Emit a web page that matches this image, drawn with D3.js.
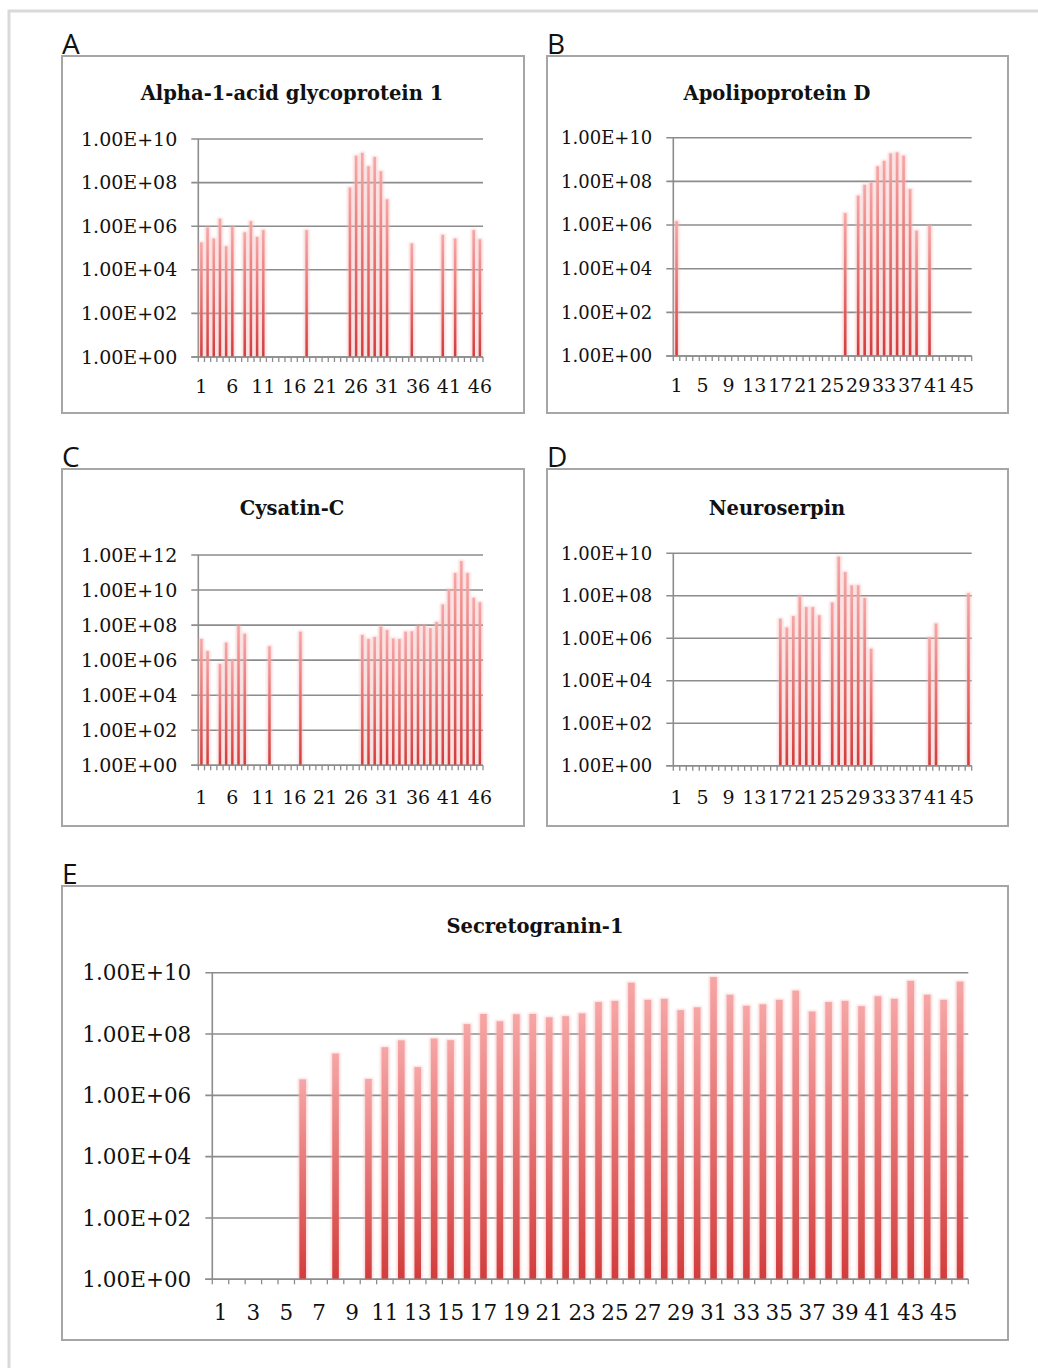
<!DOCTYPE html>
<html>
<head>
<meta charset="utf-8">
<script src="https://cdn.jsdelivr.net/npm/d3@7"></script>
<style>
  body { margin: 0; background: #fff; }
  text { fill: #111; }
</style>
</head>
<body>
<svg id="fig" width="1038" height="1368"></svg>
<script>
// sample index shared by every panel
var categories = [1,2,3,4,5,6,7,8,9,10,11,12,13,14,15,16,17,18,19,20,21,22,23,
  24,25,26,27,28,29,30,31,32,33,34,35,36,37,38,39,40,41,42,43,44,45,46];

// intensities, null = not detected
var alphaAGP = [1.8e5,8.7e5,2.7e5,2.2e6,1.2e5,9.5e5,null,5.2e5,1.7e6,3.2e5,6.6e5,
  null,null,null,null,null,null,6.6e5,null,null,null,null,null,null,
  5.9e7,1.7e9,2.3e9,5.6e8,1.5e9,3.3e8,1.7e7,null,null,null,1.6e5,
  null,null,null,null,4.0e5,null,2.7e5,null,null,6.6e5,2.5e5];

var apoD = [1.5e6,null,null,null,null,null,null,null,null,null,null,null,null,
  null,null,null,null,null,null,null,null,null,null,null,null,null,
  3.5e6,null,2.2e7,6.9e7,8.9e7,4.9e8,8.7e8,1.9e9,2.1e9,1.5e9,4.4e7,5.5e5,
  null,9.1e5,null,null,null,null,null,null];

var cystatinC = [1.6e7,3.3e6,null,6.0e5,1.0e7,1.0e6,8.9e7,3.2e7,null,null,null,
  6.2e6,null,null,null,null,4.2e7,null,null,null,null,null,null,null,null,null,
  2.7e7,1.6e7,2.1e7,8.1e7,5.2e7,1.7e7,1.6e7,4.2e7,4.4e7,8.9e7,9.3e7,6.8e7,
  1.5e8,1.5e9,1.1e10,9.3e10,4.5e11,9.3e10,3.6e9,2.0e9];

var neuroserpin = [null,null,null,null,null,null,null,null,null,null,null,null,
  null,null,null,null,8.3e6,3.2e6,1.1e7,1.0e8,2.9e7,2.9e7,1.2e7,null,
  4.8e7,6.9e9,1.3e9,3.1e8,3.1e8,7.9e7,3.2e5,null,null,null,null,null,null,
  null,null,1.1e6,4.9e6,null,null,null,null,1.3e8];

var secretogranin = [null,null,null,null,null,3.3e6,null,2.3e7,null,3.4e6,3.7e7,
  6.2e7,8.3e6,7.1e7,6.3e7,2.1e8,4.5e8,2.6e8,4.4e8,4.5e8,3.5e8,3.8e8,4.7e8,
  1.1e9,1.2e9,4.7e9,1.3e9,1.4e9,6.0e8,7.4e8,7.2e9,1.9e9,8.3e8,9.3e8,1.3e9,
  2.6e9,5.4e8,1.1e9,1.2e9,8.1e8,1.7e9,1.4e9,5.4e9,1.9e9,1.3e9,5.1e9];

var panelLetters = ["A","B","C","D","E"];
var panelTitles = ["Alpha-1-acid glycoprotein 1","Apolipoprotein D","Cysatin-C",
  "Neuroserpin","Secretogranin-1"];
var yTopExponent = [10,10,12,10,10];
var xLabelStep = [5,4,5,4,2];

var svg = d3.select("#fig");

// page frame
svg.append("path").attr("d","M9,1368V11H1038")
  .attr("fill","none").attr("stroke","#d9d9d9").attr("stroke-width",3);

var defs = svg.append("defs");
var grad = defs.append("linearGradient").attr("id","barFill")
  .attr("x1",0).attr("y1",0).attr("x2",0).attr("y2",1);
grad.append("stop").attr("offset","0%").attr("stop-color","#f6a6a6");
grad.append("stop").attr("offset","100%").attr("stop-color","#d23c3c");
defs.append("filter").attr("id","soft").attr("x","-50%").attr("width","200%")
  .append("feGaussianBlur").attr("stdDeviation",1.2);

// layout per panel: frame box, plot box, title centre, font sizes
var layout = [
  {frame:[62,56,524,413], plot:[198.3,139,483,357], titleX:292, titleY:100, yfs:19, fs:19, xlab:36},
  {frame:[547,56,1008,413], plot:[673.3,137.7,971.7,356], titleX:777, titleY:100, yfs:18, fs:19, xlab:36},
  {frame:[62,469,524,826], plot:[198.3,555,483,765.3], titleX:292, titleY:515, yfs:19, fs:19, xlab:39},
  {frame:[547,469,1008,826], plot:[673.3,553.3,971.7,765.7], titleX:777, titleY:515, yfs:18, fs:19, xlab:38},
  {frame:[62,886,1008,1340], plot:[212.3,972.7,968.3,1279.3], titleX:535, titleY:933, yfs:21.5, fs:21.5, xlab:41}
];
var seriesList = [alphaAGP, apoD, cystatinC, neuroserpin, secretogranin];

var fmt = function(d) {
  var e = Math.round(Math.log10(d));
  return "1.00E+" + (e < 10 ? "0" + e : e);
};

layout.forEach(function(L, p) {
  var g = svg.append("g");
  var values = seriesList[p];
  var x0 = L.plot[0], y0 = L.plot[1], x1 = L.plot[2], y1 = L.plot[3];

  g.append("rect")
    .attr("x", L.frame[0]).attr("y", L.frame[1])
    .attr("width", L.frame[2]-L.frame[0]).attr("height", L.frame[3]-L.frame[1])
    .attr("fill","#fff").attr("stroke","#a6a6a6").attr("stroke-width",2);

  g.append("text").attr("x", L.frame[0]).attr("y", L.frame[1]-2)
    .attr("font-family","'Open Sans', sans-serif").attr("font-size",28)
    .text(panelLetters[p]);

  g.append("text").attr("x", L.titleX).attr("y", L.titleY)
    .attr("text-anchor","middle")
    .attr("font-family","'DejaVu Serif', serif").attr("font-weight","bold")
    .attr("font-size", 19.5)
    .text(panelTitles[p]);

  var x = d3.scaleBand().domain(categories).range([x0, x1]).paddingInner(0);
  var y = d3.scaleLog().domain([1, Math.pow(10, yTopExponent[p])]).range([y1, y0]);
  var yTicks = d3.range(0, yTopExponent[p]+1, 2).map(function(e){ return Math.pow(10, e); });

  // gridlines + y labels
  g.selectAll(".grid").data(yTicks).enter().append("line")
    .attr("x1", x0-7).attr("x2", x1)
    .attr("y1", function(d){ return y(d); }).attr("y2", function(d){ return y(d); })
    .attr("stroke","#8c8c8c").attr("stroke-width",1.6);
  g.selectAll(".ylab").data(yTicks).enter().append("text")
    .attr("x", x0-21).attr("y", function(d){ return y(d); })
    .attr("dy","0.35em").attr("text-anchor","end")
    .attr("font-family","'DejaVu Serif', serif").attr("font-size", L.yfs)
    .text(fmt);

  // y axis line
  g.append("line").attr("x1",x0).attr("x2",x0).attr("y1",y0).attr("y2",y1)
    .attr("stroke","#8c8c8c").attr("stroke-width",1.6);

  // x axis ticks at category edges
  var edges = categories.map(function(c){ return x(c); }).concat([x1]);
  g.selectAll(".xt").data(edges).enter().append("line")
    .attr("x1", function(d){ return d; }).attr("x2", function(d){ return d; })
    .attr("y1", y1).attr("y2", y1+5)
    .attr("stroke","#8c8c8c").attr("stroke-width",1.3);

  var xLabels = categories.filter(function(c){ return (c-1) % xLabelStep[p] === 0; });
  g.selectAll(".xlab").data(xLabels).enter().append("text")
    .attr("x", function(d){ return x(d) + x.bandwidth()/2; })
    .attr("y", y1 + L.xlab)
    .attr("text-anchor","middle")
    .attr("font-family","'DejaVu Serif', serif").attr("font-size", L.fs)
    .text(function(d){ return d; });

  // bars
  var pts = categories.map(function(c, i){ return {c:c, v:values[i]}; })
    .filter(function(d){ return d.v != null; });
  var bw = x.bandwidth()*0.4;
  g.selectAll(".glow").data(pts).enter().append("rect")
    .attr("x", function(d){ return x(d.c) + (x.bandwidth()-bw)/2 - 1.5; })
    .attr("y", function(d){ return y(d.v) - 1; })
    .attr("width", bw+3)
    .attr("height", function(d){ return y1 - y(d.v) + 1; })
    .attr("fill","#f4b4b4").attr("opacity",0.55).attr("filter","url(#soft)");
  g.selectAll(".bar").data(pts).enter().append("rect")
    .attr("x", function(d){ return x(d.c) + (x.bandwidth()-bw)/2; })
    .attr("y", function(d){ return y(d.v); })
    .attr("width", bw)
    .attr("height", function(d){ return y1 - y(d.v); })
    .attr("fill","url(#barFill)");

  // redraw base line over bar feet
  g.append("line").attr("x1",x0-7).attr("x2",x1).attr("y1",y1).attr("y2",y1)
    .attr("stroke","#8c8c8c").attr("stroke-width",1.6);
});
</script>
</body>
</html>
